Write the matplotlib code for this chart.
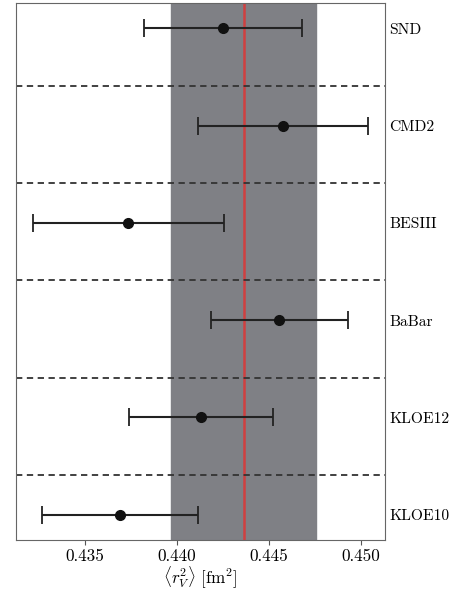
import matplotlib
matplotlib.use('Agg')
import matplotlib.pyplot as plt

experiments = ['KLOE10', 'KLOE12', 'BaBar', 'BESIII', 'CMD2', 'SND']
r2_central = [0.43691, 0.44132, 0.44557, 0.43736, 0.44577, 0.44252]
r2_error = [0.00425, 0.00392, 0.00373, 0.00518, 0.00461, 0.00431]
avg_central = 0.443625
avg_error = 0.003945

plt.rcParams['font.family'] = 'serif'
plt.rcParams['font.serif'] = ['cmr10']
plt.rcParams['mathtext.fontset'] = 'cm'
plt.rcParams['axes.formatter.use_mathtext'] = True

fig = plt.figure(figsize=(4.54, 5.90), dpi=100)
ax = fig.add_axes([0.0352, 0.0847, 0.8128, 0.9102])

ypos = list(range(len(experiments)))
ax.axvspan(avg_central - avg_error, avg_central + avg_error, color='#7f8085', zorder=0)
ax.axvline(avg_central, color='#d04040', lw=1.8, zorder=1)
for y in ypos[:-1]:
    ax.axhline(y + 0.41, color='#333333', ls=(0, (3.5, 2.5)), lw=1.3, zorder=2)
ax.errorbar(r2_central, ypos, xerr=r2_error, fmt='o', color='#111111',
            ecolor='#222222', elinewidth=1.5, capsize=6.5, capthick=1.3,
            markersize=7, zorder=3)

ax.set_xlim(0.43124, 0.45132)
ax.set_ylim(-0.26, 5.26)
ax.set_xticks([0.435, 0.440, 0.445, 0.450])
ax.set_xticklabels(['0.435', '0.440', '0.445', '0.450'])
ax.yaxis.tick_right()
ax.set_yticks(ypos)
ax.set_yticklabels(experiments)
ax.tick_params(axis='y', length=0, pad=3, labelsize=11.2)
ax.tick_params(axis='x', labelsize=12.3, length=3.5, color='#555555', pad=3)
ax.set_xlabel(r'$\langle r_V^2\rangle$ [fm$^2$]', fontsize=12.3, labelpad=0)
for s in ax.spines.values():
    s.set_color('#666666')

fig.savefig('out.png', dpi=100)
